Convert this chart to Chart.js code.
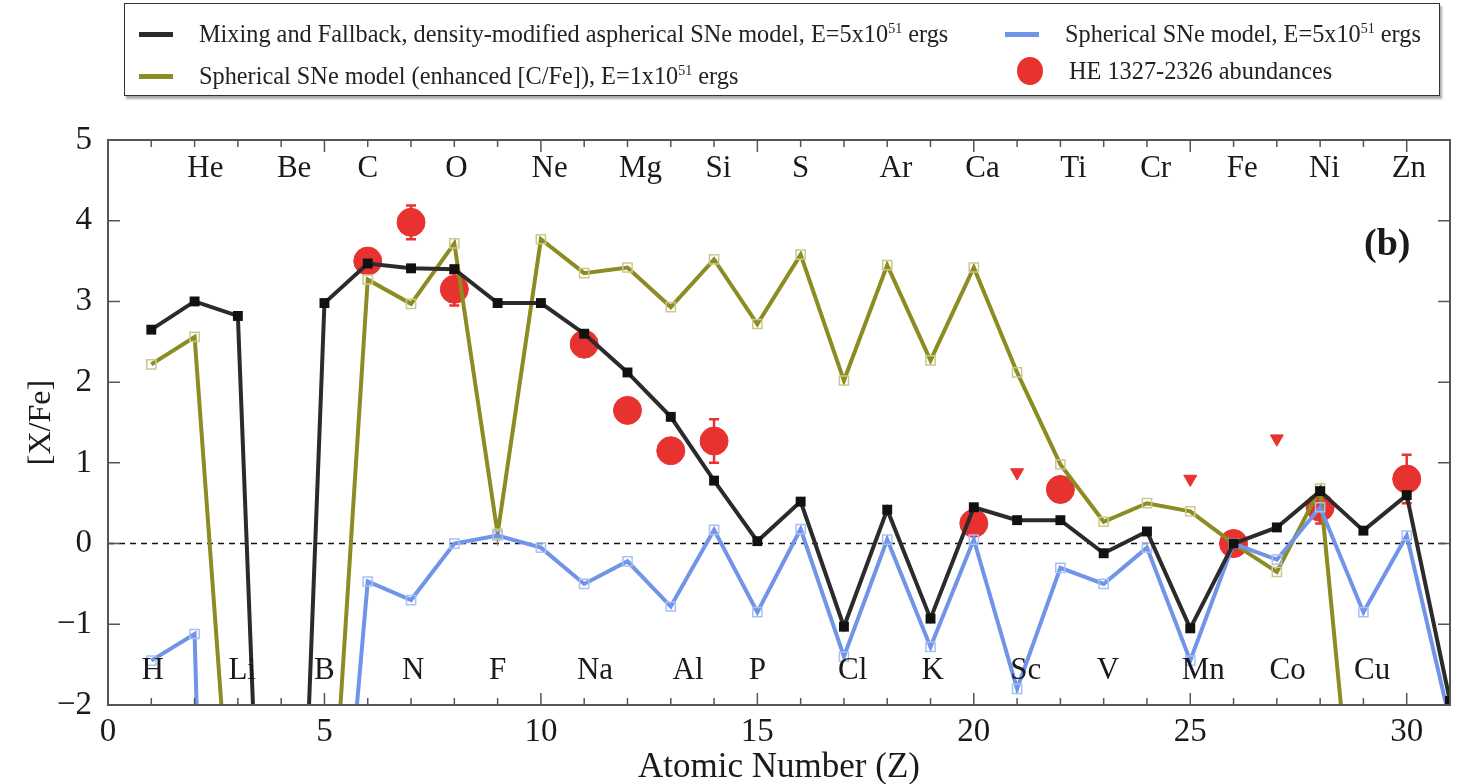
<!DOCTYPE html>
<html>
<head>
<meta charset="utf-8">
<script src="https://cdn.jsdelivr.net/npm/chart.js@4/dist/chart.umd.min.js"></script>
<style>
  body { margin: 0; background: #fff; }
  #wrap { position: relative; width: 1465px; height: 784px; }
  #legend {
    position: absolute; left: 124px; top: 3px; width: 1314px; height: 91px;
    border: 1.5px solid #333; box-shadow: 2px 3px 2px #aaa; background: #fff;
    font-family: 'Liberation Serif', serif; font-size: 24.3px; color: #222;
  }
  .item { position: absolute; display: flex; align-items: center; white-space: nowrap; }
  .sw { width: 34px; height: 5px; margin-right: 26px; }
  .dot { width: 26px; height: 28px; border-radius: 50%; background: #e8322f; margin-right: 26px; }
  sup { font-size: 14px; vertical-align: 9px; line-height: 0; }
</style>
</head>
<body>
<div id="wrap">
  <canvas id="chart" width="1465" height="784"></canvas>
  <div id="legend">
    <div class="item" style="left:14px;top:16px"><div class="sw" style="background:#2b2b2b"></div><span>Mixing and Fallback, density-modified aspherical SNe model, E=5x10<sup>51</sup> ergs</span></div>
    <div class="item" style="left:880px;top:16px"><div class="sw" style="background:#6f94e8"></div><span>Spherical SNe model, E=5x10<sup>51</sup> ergs</span></div>
    <div class="item" style="left:14px;top:58px"><div class="sw" style="background:#8c8c22"></div><span>Spherical SNe model (enhanced [C/Fe]), E=1x10<sup>51</sup> ergs</span></div>
    <div class="item" style="left:892px;top:53px"><div class="dot"></div><span>HE 1327-2326 abundances</span></div>
  </div>
</div>
<script>
// atomic numbers for the model curves
const Z = [1,2,3,4,5,6,7,8,9,10,11,12,13,14,15,16,17,18,19,20,21,22,23,24,25,26,27,28,29,30,31];

const mixFallback = [2.65,3.00,2.82,-11,2.98,3.47,3.41,3.40,2.98,2.98,2.60,2.12,1.57,0.78,0.03,0.52,-1.03,0.42,-0.93,0.45,0.29,0.29,-0.12,0.15,-1.05,0.00,0.20,0.65,0.16,0.60,-1.95];
const sphericalE1 = [2.22,2.56,-4.8,-6.0,-5.1,3.27,2.97,3.72,0.12,3.77,3.35,3.42,2.93,3.52,2.72,3.58,2.02,3.45,2.27,3.42,2.12,0.98,0.27,0.50,0.40,0.00,-0.35,0.68,-4.9];
const sphericalE5 = [-1.45,-1.12,-20,-12,-6.6,-0.47,-0.70,0.00,0.10,-0.05,-0.50,-0.22,-0.78,0.17,-0.85,0.18,-1.40,0.05,-1.28,0.05,-1.80,-0.30,-0.50,-0.05,-1.45,0.00,-0.20,0.45,-0.85,0.10,-2.2];

// HE 1327-2326 measurements
const obsZ = [6,7,8,11,12,13,14,20,22,26,28,30];
const obsVal = [3.50,3.98,3.15,2.47,1.65,1.15,1.27,0.25,0.67,0.00,0.45,0.80];
const obsErr = [0,0.21,0.2,0,0,0,0.27,0,0,0,0.2,0.3];
// upper limits
const limZ = [21,25,27];
const limVal = [0.88,0.80,1.30];

// element labels
const topEls = ['He','Be','C','O','Ne','Mg','Si','S','Ar','Ca','Ti','Cr','Fe','Ni','Zn'];
const topZ = [2.25,4.3,6.0,8.05,10.2,12.3,14.1,16.0,18.2,20.2,22.3,24.2,26.2,28.1,30.05];
const botEls = ['H','Li','B','N','F','Na','Al','P','Cl','K','Sc','V','Mn','Co','Cu'];
const botZ = [1.03,3.1,5.0,7.05,9.0,11.25,13.4,15.0,17.2,19.05,21.2,23.1,25.3,27.25,29.2];

const SERIF = "'Liberation Serif', 'Times New Roman', serif";

function pts(xs, ys) {
  return ys.map((y, i) => ({ x: xs[i], y: y }));
}

const decor = {
  id: 'decor',
  beforeDatasetsDraw(chart) {
    const { ctx, chartArea: a, scales: { x, y } } = chart;
    ctx.save();
    // zero line
    ctx.strokeStyle = '#111';
    ctx.lineWidth = 1.5;
    ctx.setLineDash([6, 5]);
    ctx.beginPath();
    ctx.moveTo(a.left, y.getPixelForValue(0));
    ctx.lineTo(a.right, y.getPixelForValue(0));
    ctx.stroke();
    ctx.setLineDash([]);
    // error bars
    ctx.strokeStyle = '#e8322f';
    ctx.lineWidth = 2.5;
    obsZ.forEach((z, i) => {
      if (!obsErr[i]) return;
      const px = x.getPixelForValue(z);
      const y1 = y.getPixelForValue(obsVal[i] + obsErr[i]);
      const y2 = y.getPixelForValue(obsVal[i] - obsErr[i]);
      ctx.beginPath();
      ctx.moveTo(px, y1); ctx.lineTo(px, y2);
      ctx.moveTo(px - 5, y1); ctx.lineTo(px + 5, y1);
      ctx.moveTo(px - 5, y2); ctx.lineTo(px + 5, y2);
      ctx.stroke();
    });
    ctx.restore();
  },
  afterDraw(chart) {
    const { ctx, chartArea: a, scales: { x, y } } = chart;
    ctx.save();
    // frame
    ctx.strokeStyle = '#555';
    ctx.lineWidth = 2;
    ctx.strokeRect(a.left, a.top, a.right - a.left, a.bottom - a.top);
    // inward ticks
    ctx.lineWidth = 1.5;
    ctx.beginPath();
    for (let v = 1; v < 31; v++) {
      const px = x.getPixelForValue(v);
      const len = v % 5 === 0 ? 12 : 7;
      ctx.moveTo(px, a.bottom); ctx.lineTo(px, a.bottom - len);
      ctx.moveTo(px, a.top); ctx.lineTo(px, a.top + len);
    }
    for (let v = -1; v < 5; v++) {
      const py = y.getPixelForValue(v);
      ctx.moveTo(a.left, py); ctx.lineTo(a.left + 12, py);
      ctx.moveTo(a.right, py); ctx.lineTo(a.right - 12, py);
    }
    ctx.stroke();
    // element names
    ctx.fillStyle = '#1a1a1a';
    ctx.font = '31px ' + SERIF;
    ctx.textAlign = 'center';
    ctx.textBaseline = 'middle';
    topEls.forEach((t, i) => ctx.fillText(t, x.getPixelForValue(topZ[i]), y.getPixelForValue(4.64)));
    botEls.forEach((t, i) => ctx.fillText(t, x.getPixelForValue(botZ[i]), y.getPixelForValue(-1.58)));
    // panel tag
    ctx.font = 'bold 38px ' + SERIF;
    ctx.fillText('(b)', x.getPixelForValue(29.55), y.getPixelForValue(3.7));
    ctx.restore();
  }
};

new Chart(document.getElementById('chart'), {
  type: 'line',
  data: {
    datasets: [
      {
        label: 'HE 1327-2326 abundances',
        data: pts(obsZ, obsVal),
        showLine: false,
        pointStyle: 'circle',
        pointRadius: 14,
        backgroundColor: '#e8322f',
        borderColor: '#e8322f',
        order: 5
      },
      {
        label: 'upper limits',
        data: pts(limZ, limVal),
        showLine: false,
        pointStyle: 'triangle',
        rotation: 180,
        pointRadius: 7.5,
        backgroundColor: '#e8322f',
        borderColor: '#e8322f',
        order: 5
      },
      {
        label: 'Spherical SNe model (enhanced [C/Fe]), E=1x10^51 ergs',
        data: pts(Z, sphericalE1),
        borderColor: '#8c8c22',
        borderWidth: 4,
        pointStyle: 'rect',
        pointRadius: 6.5,
        pointBorderWidth: 1.5,
        pointBorderColor: '#c9c98e',
        pointBackgroundColor: 'rgba(255,255,255,0)',
        order: 3
      },
      {
        label: 'Spherical SNe model, E=5x10^51 ergs',
        data: pts(Z, sphericalE5),
        borderColor: '#6f94e8',
        borderWidth: 4,
        pointStyle: 'rect',
        pointRadius: 6.5,
        pointBorderWidth: 1.5,
        pointBorderColor: '#a9c0f2',
        pointBackgroundColor: 'rgba(255,255,255,0)',
        order: 2
      },
      {
        label: 'Mixing and Fallback, density-modified aspherical SNe model, E=5x10^51 ergs',
        data: pts(Z, mixFallback),
        borderColor: '#2b2b2b',
        borderWidth: 4,
        pointStyle: 'rect',
        pointRadius: 7,
        pointBorderWidth: 0,
        pointBackgroundColor: '#111',
        order: 1
      }
    ]
  },
  options: {
    responsive: false,
    animation: false,
    layout: { padding: { top: 140, right: 8, left: 0, bottom: 0 } },
    plugins: { legend: { display: false }, tooltip: { enabled: false } },
    scales: {
      x: {
        type: 'linear',
        min: 0, max: 31,
        grid: { display: false },
        border: { display: false },
        ticks: {
          stepSize: 1,
          autoSkip: false,
          maxRotation: 0,
          padding: 0,
          color: '#1a1a1a',
          font: { family: SERIF, size: 33 },
          callback: v => (v % 5 === 0 ? String(v) : '')
        },
        title: {
          display: true,
          text: 'Atomic Number (Z)',
          color: '#1a1a1a',
          font: { family: SERIF, size: 35 },
          padding: { top: 0, bottom: -5 }
        },
        afterFit: s => { s.height = 79; }
      },
      y: {
        min: -2, max: 5,
        grid: { display: false },
        border: { display: false },
        ticks: {
          stepSize: 1,
          padding: 8,
          color: '#1a1a1a',
          font: { family: SERIF, size: 33 },
          callback: v => (v < 0 ? '\u2212' + Math.abs(v) : String(v))
        },
        title: {
          display: true,
          text: '[X/Fe]',
          color: '#1a1a1a',
          font: { family: SERIF, size: 32 },
          padding: { top: 22, bottom: 0 }
        },
        afterFit: s => { s.width = 108; }
      }
    }
  },
  plugins: [decor]
});
</script>
</body>
</html>
